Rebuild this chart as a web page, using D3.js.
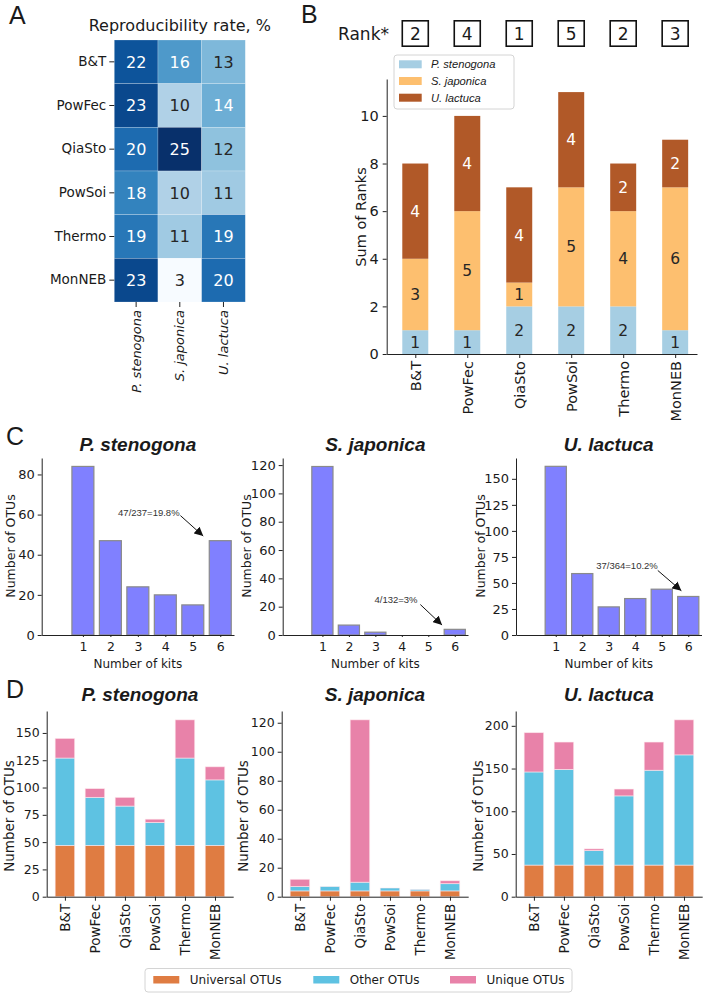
<!DOCTYPE html>
<html>
<head>
<meta charset="utf-8">
<script src="https://cdn.jsdelivr.net/npm/d3@7"></script>
<style>
  body { margin: 0; background: #fff; }
  svg { display: block; }
  text { font-family: "DejaVu Sans", sans-serif; fill: #1a1a1a; }
</style>
</head>
<body>
<svg id="fig" width="707" height="996"></svg>
<script>
// ---- data ----
const kits = ['B&T', 'PowFec', 'QiaSto', 'PowSoi', 'Thermo', 'MonNEB'];
const species = ['P. stenogona', 'S. japonica', 'U. lactuca'];

// A: reproducibility rate, %
const reproStenogona = [22, 23, 20, 18, 19, 23];
const reproJaponica = [16, 10, 25, 10, 11, 3];
const reproLactuca = [13, 14, 12, 11, 19, 20];

// B: ranks per species and overall rank
const rankStenogona = [1, 1, 2, 2, 2, 1];
const rankJaponica = [3, 5, 1, 5, 4, 6];
const rankLactuca = [4, 4, 4, 4, 2, 2];
const overallRank = [2, 4, 1, 5, 2, 3];
const rankTicks = [0, 2, 4, 6, 8, 10];

// C: OTUs shared by n kits
const kitCounts = [1, 2, 3, 4, 5, 6];
const sharedStenogona = [84, 47, 24, 20, 15, 47];
const sharedJaponica = [119, 7, 2, 0, 0, 4];
const sharedLactuca = [162, 59, 27, 35, 44, 37];
const sharedNotes = ['47/237=19.8%', '4/132=3%', '37/364=10.2%'];
const sharedTicks = [[0, 20, 40, 60, 80], [0, 20, 40, 60, 80, 100, 120], [0, 25, 50, 75, 100, 125, 150]];

// D: OTU composition per kit
const universalStenogona = [47, 47, 47, 47, 47, 47];
const otherStenogona = [80, 44, 36, 21, 80, 60];
const uniqueStenogona = [18, 8, 8, 3, 35, 12];
const universalJaponica = [4, 4, 4, 4, 4, 4];
const otherJaponica = [3, 3, 6, 2, 1, 5];
const uniqueJaponica = [5, 0, 112, 0, 0, 2];
const universalLactuca = [37, 37, 37, 37, 37, 37];
const otherLactuca = [109, 112, 17, 81, 111, 129];
const uniqueLactuca = [46, 32, 2, 8, 33, 41];
const compTicks = [[0, 25, 50, 75, 100, 125, 150], [0, 20, 40, 60, 80, 100, 120], [0, 50, 100, 150, 200]];
const compNames = ['Universal OTUs', 'Other OTUs', 'Unique OTUs'];

// ---- styles ----
const rankColors = ['#a6cee3', '#fdbf6f', '#b15928'];
const compColors = ['#df7c42', '#5ec2e2', '#e882a9'];
const histFill = '#8080ff';
const dark = '#262626';

const svg = d3.select('#fig');

function panelLabel(t, x, y) {
  svg.append('text')
    .attr('x', x).attr('y', y)
    .style('font-family', '"Liberation Sans", Arial, sans-serif')
    .attr('font-size', 25)
    .text(t);
}

function styleAxis(g, size) {
  g.selectAll('.domain').attr('stroke', '#222');
  g.selectAll('.tick line').attr('stroke', '#222');
  g.selectAll('.tick text').attr('font-size', size).style('fill', '#1a1a1a');
}

// luminance test used for annotation colour on the heatmap
function isLight(c) {
  const rgb = d3.rgb(c);
  const lin = v => { v /= 255; return v <= 0.03928 ? v / 12.92 : Math.pow((v + 0.055) / 1.055, 2.4); };
  return 0.2126 * lin(rgb.r) + 0.7152 * lin(rgb.g) + 0.0722 * lin(rgb.b) > 0.408;
}

// ================= A: heatmap =================
(function drawHeatmap() {
  const cols = [reproStenogona, reproJaponica, reproLactuca];
  const x = d3.scaleBand().domain(species).range([114.3, 245.3]);
  const y = d3.scaleBand().domain(kits).range([40, 302]);
  const color = d3.scaleSequential(d3.interpolateBlues).domain(d3.extent(cols.flat()));

  const cells = [];
  cols.forEach((vals, i) => vals.forEach((v, j) => cells.push({ sp: species[i], kit: kits[j], v })));

  svg.append('g').selectAll('rect').data(cells).enter().append('rect')
    .attr('x', d => x(d.sp)).attr('y', d => y(d.kit))
    .attr('width', x.bandwidth()).attr('height', y.bandwidth())
    .attr('fill', d => color(d.v))
    .attr('stroke', 'rgba(255,255,255,0.35)').attr('stroke-width', 0.6);

  svg.append('g').selectAll('text').data(cells).enter().append('text')
    .attr('x', d => x(d.sp) + x.bandwidth() / 2)
    .attr('y', d => y(d.kit) + y.bandwidth() / 2)
    .attr('dy', '0.36em').attr('text-anchor', 'middle')
    .attr('font-size', 16)
    .style('fill', d => isLight(color(d.v)) ? dark : '#fff')
    .text(d => d.v);

  const gy = svg.append('g').attr('transform', 'translate(114.3,0)')
    .call(d3.axisLeft(y).tickSize(5).tickPadding(3));
  gy.select('.domain').remove();
  styleAxis(gy, 13.5);

  const gx = svg.append('g').attr('transform', 'translate(0,302)')
    .call(d3.axisBottom(x).tickSize(5));
  gx.select('.domain').remove();
  styleAxis(gx, 13);
  gx.selectAll('.tick text')
    .attr('transform', 'rotate(-90)')
    .attr('x', -8).attr('y', 0).attr('dy', '0.35em')
    .attr('text-anchor', 'end')
    .style('font-style', 'italic');

  svg.append('text')
    .attr('x', 179.8).attr('y', 31).attr('text-anchor', 'middle')
    .attr('font-size', 16)
    .text('Reproducibility rate, %');
})();

// ================= B: stacked ranks =================
(function drawRanks() {
  const x = d3.scaleLinear().domain([-0.55, 5.42]).range([386.7, 697]);
  const y = d3.scaleLinear().domain([0, 11.55]).range([354, 79]);
  const barW = x(0.25) - x(-0.25);

  const rows = kits.map((k, i) => ({ kit: k, i, ps: rankStenogona[i], sj: rankJaponica[i], ul: rankLactuca[i] }));
  const stack = d3.stack().keys(['ps', 'sj', 'ul'])(rows);

  stack.forEach((layer, li) => {
    const g = svg.append('g');
    g.selectAll('rect').data(layer).enter().append('rect')
      .attr('x', d => x(d.data.i) - barW / 2)
      .attr('y', d => y(d[1]))
      .attr('width', barW)
      .attr('height', d => y(d[0]) - y(d[1]))
      .attr('fill', rankColors[li]);
    g.selectAll('text').data(layer).enter().append('text')
      .attr('x', d => x(d.data.i))
      .attr('y', d => y((d[0] + d[1]) / 2))
      .attr('dy', '0.36em').attr('text-anchor', 'middle')
      .attr('font-size', 15.5)
      .style('fill', li === 2 ? '#fff' : dark)
      .text(d => d[1] - d[0]);
  });

  const gy = svg.append('g').attr('transform', 'translate(386.7,0)')
    .call(d3.axisLeft(y).tickValues(rankTicks).tickSize(4).tickPadding(4).tickSizeOuter(0));
  styleAxis(gy, 14.5);

  const gx = svg.append('g').attr('transform', 'translate(0,354)')
    .call(d3.axisBottom(x).tickValues(d3.range(kits.length)).tickFormat(i => kits[i]).tickSize(4).tickSizeOuter(0));
  styleAxis(gx, 14.5);
  gx.selectAll('.tick text')
    .attr('transform', 'rotate(-90)')
    .attr('x', -7).attr('y', 0).attr('dy', '0.35em')
    .attr('text-anchor', 'end');

  svg.append('text')
    .attr('transform', 'translate(366,217) rotate(-90)')
    .attr('text-anchor', 'middle').attr('font-size', 14.5)
    .text('Sum of Ranks');

  // overall rank boxes
  svg.append('text').attr('x', 338).attr('y', 39.5).attr('font-size', 17).text('Rank*');
  const boxes = svg.append('g').selectAll('g').data(overallRank).enter().append('g')
    .attr('transform', (d, i) => `translate(${x(i)},33.5)`);
  boxes.append('rect')
    .attr('x', -13).attr('y', -12.7).attr('width', 26).attr('height', 25.4)
    .attr('fill', 'none').attr('stroke', '#111').attr('stroke-width', 1.6);
  boxes.append('text')
    .attr('text-anchor', 'middle').attr('dy', '0.36em').attr('font-size', 17)
    .text(d => d);

  // legend
  const lg = svg.append('g');
  lg.append('rect').attr('x', 394).attr('y', 55).attr('width', 120).attr('height', 54)
    .attr('rx', 3).attr('fill', '#fff').attr('stroke', '#d4d4d4');
  species.forEach((s, i) => {
    const yy = 64.3 + i * 16.7;
    lg.append('rect').attr('x', 399).attr('y', yy - 4).attr('width', 22.7).attr('height', 8)
      .attr('fill', rankColors[i]);
    lg.append('text').attr('x', 431).attr('y', yy).attr('dy', '0.35em')
      .style('font-family', '"Liberation Sans", Arial, sans-serif')
      .style('font-style', 'italic').attr('font-size', 11.2)
      .text(s);
  });
})();

// ================= C: histograms =================
const sharedSets = [sharedStenogona, sharedJaponica, sharedLactuca];
const histLayout = [
  { x0: 41.7, x1: 234, top: 88.2, ylab: 14.5, note: [3.4, 61], tail: [4.55, 59.5], head: [5.38, 49.3] },
  { x0: 282.7, x1: 468, top: 125, ylab: 250.5, note: [3.78, 25.2], tail: [4.7, 21.5], head: [5.52, 7] },
  { x0: 516, x1: 701.5, top: 170, ylab: 484.5, note: [3.69, 67], tail: [4.85, 62], head: [5.74, 42.5] }
];

svg.append('defs').append('marker')
  .attr('id', 'arrow').attr('viewBox', '0 0 10 10')
  .attr('refX', 10).attr('refY', 5)
  .attr('markerWidth', 9).attr('markerHeight', 9)
  .attr('markerUnits', 'userSpaceOnUse')
  .attr('orient', 'auto')
  .append('path').attr('d', 'M0,0 L10,5 L0,10 z').attr('fill', '#111');

sharedSets.forEach((vals, p) => {
  const L = histLayout[p];
  const x = d3.scaleLinear().domain([-0.5, 6.5]).range([L.x0, L.x1]);
  const y = d3.scaleLinear().domain([0, L.top]).range([635, 458]);
  const bw = x(0.4) - x(-0.4);

  svg.append('g').selectAll('rect').data(vals).enter().append('rect')
    .attr('x', (d, i) => x(kitCounts[i]) - bw / 2)
    .attr('y', d => y(d))
    .attr('width', bw)
    .attr('height', d => y(0) - y(d))
    .attr('fill', histFill)
    .attr('stroke', d => d > 0 ? '#8a8a8a' : 'none').attr('stroke-width', 1.2);

  const gy = svg.append('g').attr('transform', `translate(${L.x0},0)`)
    .call(d3.axisLeft(y).tickValues(sharedTicks[p]).tickSize(4).tickPadding(3).tickSizeOuter(0));
  styleAxis(gy, 13);
  const gx = svg.append('g').attr('transform', 'translate(0,635)')
    .call(d3.axisBottom(x).tickValues(kitCounts).tickFormat(d3.format('d')).tickSize(2).tickPadding(5).tickSizeOuter(0));
  styleAxis(gx, 12.5);

  svg.append('text')
    .attr('x', (L.x0 + L.x1) / 2).attr('y', 668)
    .attr('text-anchor', 'middle').attr('font-size', 12)
    .text('Number of kits');
  svg.append('text')
    .attr('transform', `translate(${L.ylab},546) rotate(-90)`)
    .attr('text-anchor', 'middle').attr('font-size', 12.5)
    .text('Number of OTUs');
  svg.append('text')
    .attr('x', (L.x0 + L.x1) / 2).attr('y', 451)
    .attr('text-anchor', 'middle')
    .style('font-family', '"Liberation Sans", Arial, sans-serif')
    .style('font-weight', 'bold').style('font-style', 'italic')
    .attr('font-size', 19)
    .text(species[p]);

  // annotation with arrow
  svg.append('text')
    .attr('x', x(L.note[0])).attr('y', y(L.note[1])).attr('dy', '0.35em')
    .attr('text-anchor', 'middle')
    .style('font-family', '"Liberation Sans", Arial, sans-serif')
    .attr('font-size', 9.5).style('fill', '#333')
    .text(sharedNotes[p]);
  svg.append('line')
    .attr('x1', x(L.tail[0])).attr('y1', y(L.tail[1]))
    .attr('x2', x(L.head[0])).attr('y2', y(L.head[1]))
    .attr('stroke', '#111').attr('stroke-width', 1)
    .attr('marker-end', 'url(#arrow)');
});

// ================= D: stacked composition =================
const compSets = [
  [universalStenogona, otherStenogona, uniqueStenogona],
  [universalJaponica, otherJaponica, uniqueJaponica],
  [universalLactuca, otherLactuca, uniqueLactuca]
];
const compLayout = [
  { x0: 46.7, x1: 233.2, ylab: 13.5 },
  { x0: 281.7, x1: 468.2, ylab: 248 },
  { x0: 515.7, x1: 702.2, ylab: 483 }
];

compSets.forEach((sets, p) => {
  const L = compLayout[p];
  const rows = kits.map((k, i) => ({ i, a: sets[0][i], b: sets[1][i], c: sets[2][i] }));
  const stack = d3.stack().keys(['a', 'b', 'c'])(rows);
  const ymax = d3.max(rows, r => r.a + r.b + r.c) * 1.05;
  const x = d3.scaleLinear().domain([-0.607, 5.607]).range([L.x0, L.x1]);
  const y = d3.scaleLinear().domain([0, ymax]).range([896.7, 711]);
  const bw = x(0.325) - x(-0.325);

  stack.forEach((layer, li) => {
    svg.append('g').selectAll('rect').data(layer.filter(d => d[1] > d[0])).enter().append('rect')
      .attr('x', d => x(d.data.i) - bw / 2)
      .attr('y', d => y(d[1]))
      .attr('width', bw)
      .attr('height', d => y(d[0]) - y(d[1]))
      .attr('fill', compColors[li])
      .attr('stroke', 'rgba(255,235,240,0.7)').attr('stroke-width', 0.8);
  });

  const gy = svg.append('g').attr('transform', `translate(${L.x0},0)`)
    .call(d3.axisLeft(y).tickValues(compTicks[p]).tickSize(4).tickPadding(3).tickSizeOuter(0));
  styleAxis(gy, 12.5);
  const gx = svg.append('g').attr('transform', 'translate(0,896.7)')
    .call(d3.axisBottom(x).tickValues(d3.range(kits.length)).tickFormat(i => kits[i]).tickSize(4).tickSizeOuter(0));
  styleAxis(gx, 13.5);
  gx.selectAll('.tick text')
    .attr('transform', 'rotate(-90)')
    .attr('x', -7).attr('y', 0).attr('dy', '0.35em')
    .attr('text-anchor', 'end');

  svg.append('text')
    .attr('transform', `translate(${L.ylab},816) rotate(-90)`)
    .attr('text-anchor', 'middle').attr('font-size', 13.5)
    .text('Number of OTUs');
  svg.append('text')
    .attr('x', (L.x0 + L.x1) / 2).attr('y', 700.5)
    .attr('text-anchor', 'middle')
    .style('font-family', '"Liberation Sans", Arial, sans-serif')
    .style('font-weight', 'bold').style('font-style', 'italic')
    .attr('font-size', 19)
    .text(species[p]);
});

// bottom legend
(function drawLegend() {
  const g = svg.append('g');
  g.append('rect').attr('x', 145).attr('y', 968.5).attr('width', 427).attr('height', 23.5)
    .attr('rx', 3).attr('fill', '#fff').attr('stroke', '#d4d4d4');
  const starts = [153.3, 313.3, 450];
  compNames.forEach((n, i) => {
    g.append('rect').attr('x', starts[i]).attr('y', 976).attr('width', 26).attr('height', 7.5)
      .attr('fill', compColors[i]);
    g.append('text').attr('x', starts[i] + 36.5).attr('y', 980).attr('dy', '0.35em')
      .attr('font-size', 12).text(n);
  });
})();

panelLabel('A', 9, 23.5);
panelLabel('B', 301, 23);
panelLabel('C', 6, 445);
panelLabel('D', 6, 698);
</script>
</body>
</html>
